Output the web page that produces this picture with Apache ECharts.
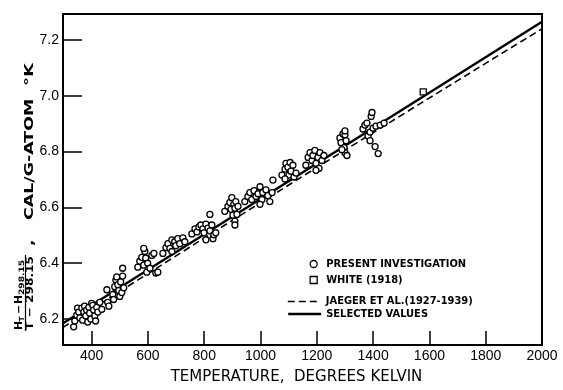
<!DOCTYPE html>
<html>
<head>
<meta charset="utf-8">
<title>Enthalpy function vs temperature</title>
<script src="https://cdn.jsdelivr.net/npm/echarts@6/dist/echarts.min.js"></script>
<style>
  html, body { margin: 0; padding: 0; background: #fff; }
  #chart { width: 563px; height: 390px; }
</style>
</head>
<body>
<div id="chart"></div>
<script>
// tick labels
const xTicks = [400, 600, 800, 1000, 1200, 1400, 1600, 1800, 2000];
const yTicks = [6.2, 6.4, 6.6, 6.8, 7.0, 7.2];

const seriesNames = ['PRESENT INVESTIGATION', 'WHITE (1918)', 'JAEGER ET AL.(1927-1939)', 'SELECTED VALUES'];

// [T (K), (H_T - H_298.15)/(T - 298.15)]
const presentInvestigation = [
  [336, 6.172], [340, 6.193], [347, 6.214], [350, 6.239], [354, 6.225], [358, 6.204], [365, 6.239],
  [368, 6.196], [372, 6.225], [375, 6.246], [379, 6.211], [382, 6.232], [386, 6.189], [390, 6.242],
  [393, 6.221], [397, 6.200], [400, 6.256], [404, 6.249], [407, 6.232], [411, 6.211], [414, 6.193],
  [418, 6.242], [422, 6.225], [429, 6.260], [436, 6.235],
  [454, 6.305], [457, 6.260], [461, 6.246], [475, 6.288], [478, 6.270], [482, 6.316], [486, 6.340],
  [489, 6.351], [493, 6.323], [496, 6.302], [500, 6.281], [503, 6.333], [507, 6.295], [510, 6.354],
  [514, 6.312], [510, 6.382],
  [564, 6.386], [571, 6.407], [578, 6.421], [585, 6.393], [589, 6.442], [592, 6.418], [596, 6.368],
  [599, 6.400], [607, 6.382], [614, 6.428], [621, 6.435], [628, 6.365], [635, 6.368], [585, 6.453],
  [653, 6.435], [664, 6.456], [671, 6.470], [678, 6.453], [685, 6.484], [685, 6.442], [695, 6.477],
  [699, 6.463], [706, 6.488], [713, 6.470], [724, 6.491], [731, 6.477],
  [756, 6.505], [767, 6.523], [774, 6.512], [781, 6.530], [788, 6.537], [795, 6.523], [799, 6.509],
  [806, 6.540], [806, 6.484], [813, 6.526], [820, 6.516], [827, 6.537], [831, 6.488], [834, 6.502],
  [841, 6.509], [820, 6.575],
  [873, 6.586], [884, 6.604], [891, 6.618], [895, 6.593], [898, 6.635], [902, 6.572], [905, 6.611],
  [909, 6.597], [912, 6.621], [916, 6.575], [920, 6.604], [909, 6.551], [909, 6.537],
  [944, 6.621], [955, 6.639], [962, 6.653], [969, 6.628], [977, 6.660], [984, 6.639], [991, 6.649],
  [998, 6.674], [1005, 6.628], [1008, 6.653], [1019, 6.663], [1026, 6.642], [1033, 6.621],
  [1041, 6.653], [998, 6.611], [1044, 6.698],
  [1076, 6.716], [1087, 6.737], [1090, 6.758], [1097, 6.744], [1101, 6.716], [1105, 6.761],
  [1108, 6.730], [1115, 6.751], [1119, 6.709], [1126, 6.723], [1087, 6.702],
  [1161, 6.751], [1169, 6.779], [1176, 6.796], [1183, 6.768], [1186, 6.786], [1193, 6.804],
  [1197, 6.758], [1204, 6.779], [1208, 6.740], [1211, 6.796], [1218, 6.768], [1225, 6.786],
  [1197, 6.733],
  [1282, 6.849], [1286, 6.832], [1293, 6.863], [1297, 6.814], [1300, 6.796], [1304, 6.839],
  [1307, 6.786], [1300, 6.860], [1289, 6.807], [1300, 6.874],
  [1364, 6.881], [1371, 6.895], [1378, 6.902], [1382, 6.856], [1389, 6.870], [1389, 6.839],
  [1393, 6.926], [1396, 6.940], [1400, 6.884], [1407, 6.818], [1410, 6.891], [1425, 6.895],
  [1439, 6.902], [1418, 6.793]
];
const white1918 = [[1578, 7.014]];
const jaegerEtAl = [[298.15, 6.170], [1000, 6.617], [1500, 6.930], [2000, 7.240]];
const selectedValues = [[298.15, 6.185], [2000, 7.265]];

const chart = echarts.init(document.getElementById('chart'));

const legendFont = '"DejaVu Sans Condensed", sans-serif';
const titleFont = '"DejaVu Sans", sans-serif';

const markerLegend = (name, icon, top) => ({
  data: [{ name: name, icon: icon }],
  left: 309.5, top: top, padding: 0,
  itemWidth: 7, itemHeight: 7, selectedMode: false,
  itemStyle: { color: '#fff', borderColor: '#000', borderWidth: 1.3 },
  textStyle: { fontFamily: legendFont, fontWeight: 'bold', fontSize: 11, color: '#000', padding: [0, 0, 0, 4] }
});
const lineLegend = (name, type, top) => ({
  data: [name],
  left: 287, top: top, padding: 0,
  itemWidth: 33, itemHeight: 8, selectedMode: false,
  itemStyle: { opacity: 0 },
  lineStyle: { color: '#000', width: type === 'solid' ? 2.4 : 1.6, type: type === 'solid' ? 'solid' : [7, 4], opacity: 1 },
  textStyle: { fontFamily: legendFont, fontWeight: 'bold', fontSize: 11, color: '#000' }
});

// helper for the rotated y-axis title pieces
const yText = (text, x, y, font, sx, align) => ({
  type: 'text', x: x, y: y, scaleX: sx || 1,
  style: {
    text: text, font: font, fill: '#000',
    textAlign: align || 'left', align: align || 'left',
    textVerticalAlign: 'middle', verticalAlign: 'middle'
  }
});

chart.setOption({
  animation: false,
  backgroundColor: '#fff',
  grid: { left: 63, right: 21, top: 14, bottom: 38, show: true, borderColor: '#000', borderWidth: 2 },
  legend: [
    markerLegend(seriesNames[0], 'circle', 258.5),
    markerLegend(seriesNames[1], 'rect', 274.5),
    lineLegend(seriesNames[2], 'dashed', 296),
    lineLegend(seriesNames[3], 'solid', 308.5)
  ],
  xAxis: {
    type: 'value',
    min: 298.15,
    max: 2000,
    name: 'TEMPERATURE,  DEGREES KELVIN',
    nameLocation: 'middle',
    nameGap: 25,
    nameTextStyle: { fontFamily: titleFont, fontSize: 15, color: '#000', padding: [0, 12, 0, 0] },
    axisLine: { show: true, lineStyle: { color: '#000', width: 2 } },
    axisTick: { show: true, inside: true, length: 14, customValues: xTicks, lineStyle: { color: '#000', width: 1.5 } },
    axisLabel: {
      customValues: xTicks, margin: 4,
      fontFamily: '"Liberation Sans", sans-serif', fontSize: 14, color: '#000',
      formatter: v => String(v)
    },
    splitLine: { show: false }
  },
  yAxis: {
    type: 'value',
    min: 6.107,
    max: 7.293,
    axisLine: { show: true, lineStyle: { color: '#000', width: 2 } },
    axisTick: { show: true, inside: true, length: 19, customValues: yTicks, lineStyle: { color: '#000', width: 1.5 } },
    axisLabel: {
      customValues: yTicks, margin: 4,
      fontFamily: '"Liberation Sans", sans-serif', fontSize: 14, color: '#000',
      formatter: v => v.toFixed(1)
    },
    splitLine: { show: false }
  },
  graphic: [{
    type: 'group',
    x: 0, y: 332,
    rotation: Math.PI / 2,
    children: [
      yText('H', 2, 19.5, 'bold 10px "DejaVu Sans Condensed"', 1.2),
      yText('T', 10.5, 22.5, 'bold 7px "DejaVu Sans Condensed"', 1.2),
      yText('−', 18, 19.5, 'bold 10px "DejaVu Sans Condensed"', 1.2),
      yText('H', 28, 19.5, 'bold 10px "DejaVu Sans Condensed"', 1.2),
      yText('298.15', 37, 22.5, 'bold 7.5px "DejaVu Sans Condensed"', 1.35),
      { type: 'line', shape: { x1: 1, y1: 25.5, x2: 77, y2: 25.5 }, style: { stroke: '#000', lineWidth: 1.2 } },
      yText('T − 298.15', 39, 30, 'bold 10px "DejaVu Sans Condensed"', 1.35, 'center'),
      yText(',', 86, 30, 'bold 12px "DejaVu Sans"', 1.4),
      yText('CAL/G-ATOM', 112, 30, 'bold 12px "DejaVu Sans"', 1.45),
      yText('°K', 246, 30, 'bold 12px "DejaVu Sans"', 1.5)
    ]
  }],
  series: [
    {
      name: seriesNames[3],
      type: 'line',
      data: selectedValues,
      symbol: 'none',
      color: '#000',
      lineStyle: { color: '#000', width: 2.4 },
      z: 2
    },
    {
      name: seriesNames[2],
      type: 'line',
      data: jaegerEtAl,
      symbol: 'none',
      smooth: true,
      color: '#000',
      lineStyle: { color: '#000', width: 1.6, type: [7, 4] },
      z: 2
    },
    {
      name: seriesNames[0],
      type: 'scatter',
      data: presentInvestigation,
      symbol: 'circle',
      symbolSize: 6,
      itemStyle: { color: '#fff', borderColor: '#000', borderWidth: 1.3, opacity: 1 },
      z: 3
    },
    {
      name: seriesNames[1],
      type: 'scatter',
      data: white1918,
      symbol: 'rect',
      symbolSize: 6,
      itemStyle: { color: '#fff', borderColor: '#000', borderWidth: 1.3, opacity: 1 },
      z: 3
    }
  ]
});
</script>
</body>
</html>
